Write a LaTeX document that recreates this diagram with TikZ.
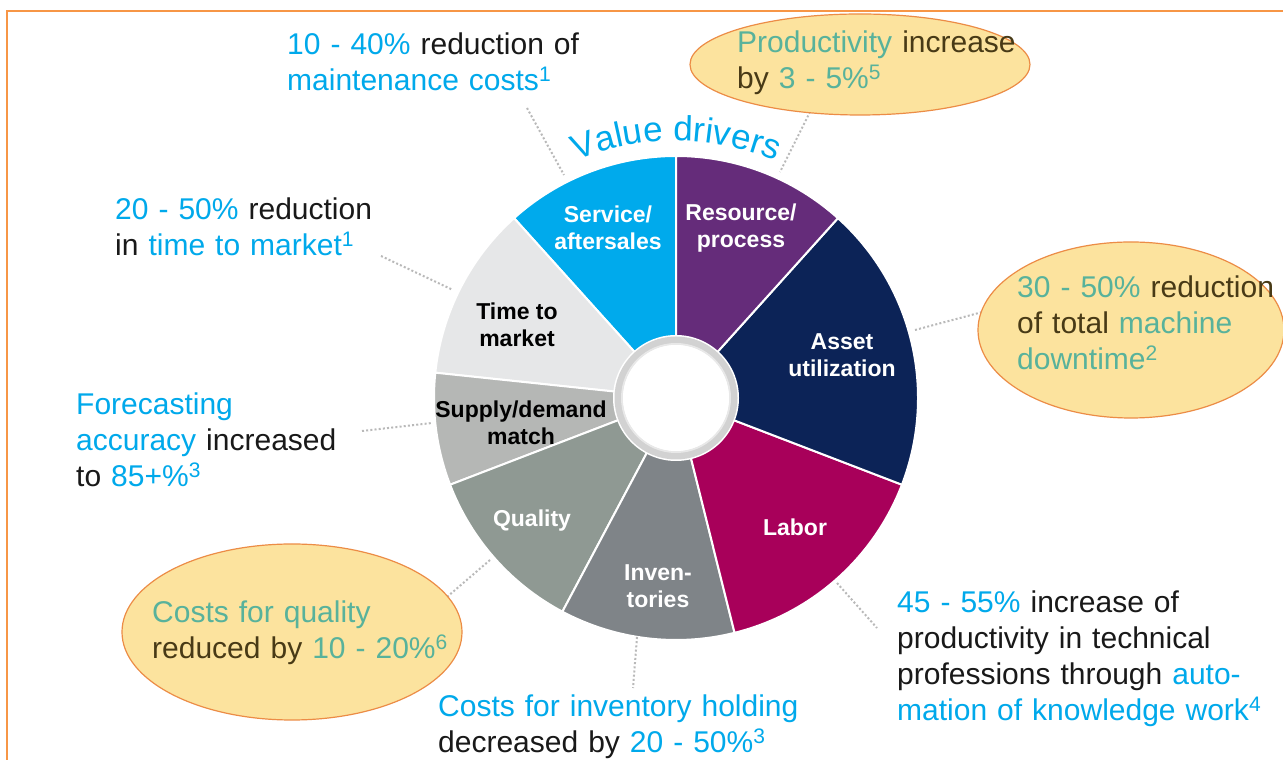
\documentclass[tikz,border=0pt]{standalone}
\usepackage{fontspec}
\setmainfont{Liberation Sans}
\usetikzlibrary{calc,shapes.geometric,decorations.text}
\definecolor{cyanT}{RGB}{0,169,235}
\definecolor{cService}{RGB}{0,170,236}
\definecolor{cResource}{RGB}{101,44,122}
\definecolor{cAsset}{RGB}{12,35,87}
\definecolor{cLabor}{RGB}{168,0,90}
\definecolor{cInv}{RGB}{127,132,136}
\definecolor{cQual}{RGB}{143,153,147}
\definecolor{cSupply}{RGB}{181,183,181}
\definecolor{cTime}{RGB}{230,231,232}
\definecolor{frameOrange}{RGB}{247,150,70}
\definecolor{bubbleFill}{RGB}{252,227,158}
\definecolor{bubbleLine}{RGB}{236,140,70}
\definecolor{tealT}{RGB}{88,178,155}
\definecolor{darkT}{RGB}{72,58,22}
\definecolor{txtK}{RGB}{25,25,25}
\tikzset{
  seg/.style={draw=white, line width=2pt},
  lab/.style={font=\fontsize{23}{27.5}\selectfont\bfseries, align=center, inner sep=0pt},
  ann/.style={font=\fontsize{30}{36}\selectfont, align=left, inner sep=0pt, anchor=base west, text width=420pt, text=txtK},
  conn/.style={draw=gray!55, line width=2pt, dash pattern=on 2pt off 2.2pt},
  bubble/.style={ellipse, draw=bubbleLine, line width=1.2pt, fill=bubbleFill, inner sep=0pt}
}
\begin{document}
\begin{tikzpicture}[x=1pt,y=1pt]
\useasboundingbox (0,0) rectangle (1283,760);
\fill[white] (0,0) rectangle (1283,760);
% frame
\draw[frameOrange, line width=2pt] (7,-5) -- (7,749) -- (1290,749);
% wheel
\coordinate (C) at (676,362);
\filldraw[seg, fill=cService]  (C) -- ++(90:242pt)  arc[start angle=90,  end angle=132, radius=242pt] -- cycle;
\filldraw[seg, fill=cTime]     (C) -- ++(132:242pt) arc[start angle=132, end angle=174, radius=242pt] -- cycle;
\filldraw[seg, fill=cSupply]   (C) -- ++(174:242pt) arc[start angle=174, end angle=201, radius=242pt] -- cycle;
\filldraw[seg, fill=cQual]     (C) -- ++(201:242pt) arc[start angle=201, end angle=242, radius=242pt] -- cycle;
\filldraw[seg, fill=cInv]      (C) -- ++(242:242pt) arc[start angle=242, end angle=284, radius=242pt] -- cycle;
\filldraw[seg, fill=cLabor]    (C) -- ++(284:242pt) arc[start angle=284, end angle=339, radius=242pt] -- cycle;
\filldraw[seg, fill=cAsset]    (C) -- ++(-21:242pt) arc[start angle=-21, end angle=48,  radius=242pt] -- cycle;
\filldraw[seg, fill=cResource] (C) -- ++(48:242pt)  arc[start angle=48,  end angle=90,  radius=242pt] -- cycle;
% hub
\fill[white] (C) circle (63pt);
\draw[gray!35, line width=7pt] (C) circle (58pt);
\draw[gray!18, line width=2pt] (C) circle (54pt);
\fill[white] (C) circle (53pt);
% curved title
\path[decorate, decoration={text along path, text align=center, text color=cyanT,
  text={|\fontsize{35}{40}\selectfont|Value drivers}}]
  ($(C)+(122:257pt)$) arc[start angle=122, end angle=58, radius=257pt];
% segment labels
\node[lab, text=white] (lService) at (608,532) {Service/\\aftersales};
\node[lab, text=white] (lResource) at (741,532) {Resource/\\process};
\node[lab, text=black] (lTime) at (517,435) {Time to\\market};
\node[lab, text=white] (lAsset) at (842,405) {Asset\\utilization};
\node[lab, text=black] (lSupply) at (521,337) {Supply/demand\\match};
\node[lab, text=white] (lQual) at (532,239) {Quality};
\node[lab, text=white] (lInv) at (658,174) {Inven-\\tories};
\node[lab, text=white] (lLabor) at (795,233) {Labor};
% connector end points
\coordinate (m1) at (527,652); \coordinate (m2) at (564,585);
\coordinate (p1) at (812,652); \coordinate (p2) at (780,588);
\coordinate (t1) at (381,504); \coordinate (t2) at (453,470);
\coordinate (f1) at (362,329); \coordinate (f2) at (432,337);
\coordinate (a1) at (915,430); \coordinate (a2) at (1005,454);
\coordinate (l1) at (837,177); \coordinate (l2) at (877,132);
\coordinate (i1) at (637,123); \coordinate (i2) at (633,72);
\coordinate (q1) at (490,200); \coordinate (q2) at (440,157);
\draw[conn] (m1) -- (m2);
\draw[conn] (p1) -- (p2);
\draw[conn] (t1) -- (t2);
\draw[conn] (f1) -- (f2);
\draw[conn] (a1) -- (a2);
\draw[conn] (l1) -- (l2);
\draw[conn] (i1) -- (i2);
\draw[conn] (q1) -- (q2);
% highlight bubbles
\node[bubble, minimum width=340pt, minimum height=101pt] (bProd) at (860,695.5) {};
\node[bubble, minimum width=306pt, minimum height=176pt] (bAsset) at (1131,430) {};
\node[bubble, minimum width=340pt, minimum height=176pt] (bQual) at (292,128) {};
% annotations
\node[ann] (tMaint) at (287,705) {\textcolor{cyanT}{10 - 40\%} reduction of\\\textcolor{cyanT}{maintenance costs\textsuperscript{1}}};
\node[ann, text=darkT] (tProd) at (737,707) {\textcolor{tealT}{Productivity} increase\\by \textcolor{tealT}{3 - 5\%\textsuperscript{5}}};
\node[ann] (tTime) at (115,540) {\textcolor{cyanT}{20 - 50\%} reduction\\in \textcolor{cyanT}{time to market\textsuperscript{1}}};
\node[ann] (tFore) at (76,345) {\textcolor{cyanT}{Forecasting}\\\textcolor{cyanT}{accuracy} increased\\to \textcolor{cyanT}{85+\%\textsuperscript{3}}};
\node[ann, text=darkT] (tAsset) at (1017,462) {\textcolor{tealT}{30 - 50\%} reduction\\of total \textcolor{tealT}{machine}\\\textcolor{tealT}{downtime\textsuperscript{2}}};
\node[ann, text=darkT] (tQual) at (152,137) {\textcolor{tealT}{Costs for quality}\\reduced by \textcolor{tealT}{10 - 20\%\textsuperscript{6}}};
\node[ann] (tInv) at (438,43) {\textcolor{cyanT}{Costs for inventory holding}\\decreased by \textcolor{cyanT}{20 - 50\%\textsuperscript{3}}};
\node[ann] (tLabor) at (897,147) {\textcolor{cyanT}{45 - 55\%} increase of\\productivity in technical\\professions through \textcolor{cyanT}{auto-}\\\textcolor{cyanT}{mation of knowledge work\textsuperscript{4}}};
\end{tikzpicture}
\end{document}
